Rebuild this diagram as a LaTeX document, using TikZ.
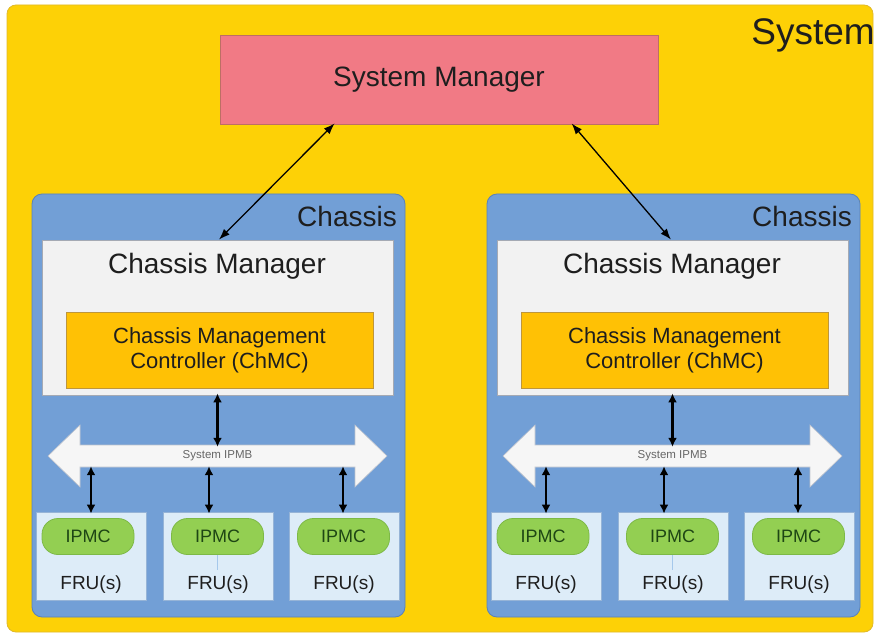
\documentclass[tikz,border=0pt]{standalone}
\usepackage{fontspec}
\setmainfont{Liberation Sans}
\usetikzlibrary{arrows.meta}
\definecolor{sysyellow}{RGB}{253,209,6}
\definecolor{sysedge}{RGB}{225,185,40}
\definecolor{smpink}{RGB}{241,122,133}
\definecolor{smedge}{RGB}{190,110,100}
\definecolor{chblue}{RGB}{114,159,214}
\definecolor{chedge}{RGB}{90,130,185}
\definecolor{cmgray}{RGB}{242,242,242}
\definecolor{cmedge}{RGB}{165,170,180}
\definecolor{chmcorange}{RGB}{255,193,5}
\definecolor{chmcedge}{RGB}{190,150,60}
\definecolor{frublue}{RGB}{221,236,248}
\definecolor{fruedge}{RGB}{150,180,215}
\definecolor{ipmcgreen}{RGB}{147,207,82}
\definecolor{ipmcedge}{RGB}{125,185,70}
\definecolor{ipmctext}{RGB}{30,70,20}
\definecolor{txt}{RGB}{30,30,30}
\definecolor{busfill}{RGB}{246,246,246}
\definecolor{busedge}{RGB}{190,195,205}
\definecolor{thinline}{RGB}{165,200,235}
\tikzset{
  plainbox/.style={rectangle, inner sep=0pt, line width=0.8pt},
  sysbox/.style={plainbox, fill=sysyellow, draw=sysedge, rounded corners=9pt},
  smbox/.style={plainbox, fill=smpink, draw=smedge, text=txt,
    font=\fontsize{28}{32}\selectfont},
  chbox/.style={plainbox, fill=chblue, draw=chedge, rounded corners=10pt},
  cmbox/.style={plainbox, fill=cmgray, draw=cmedge},
  chmcbox/.style={plainbox, fill=chmcorange, draw=chmcedge},
  frubox/.style={plainbox, fill=frublue, draw=fruedge, minimum width=110pt, minimum height=88pt},
  ipmcbox/.style={plainbox, fill=ipmcgreen, draw=ipmcedge, rounded corners=16pt,
    minimum width=92pt, minimum height=36pt, text=ipmctext, font=\fontsize{18}{20}\selectfont},
  lbl/.style={inner sep=0pt, text=txt},
  conn/.style={{Latex[length=9pt,width=9pt]}-{Latex[length=9pt,width=9pt]}, line width=2.2pt},
  diag/.style={{Latex[length=11pt,width=8pt]}-{Latex[length=11pt,width=8pt]}, line width=1.3pt},
}
\begin{document}
\begin{tikzpicture}[x=1pt,y=-1pt]
\useasboundingbox (0,0) rectangle (875,636);
\fill[white] (0,0) rectangle (875,636);
% system
\node[sysbox, minimum width=866pt, minimum height=627pt] (sys) at (440,318.5) {};
\node[lbl, anchor=base east, font=\fontsize{37}{40}\selectfont] (syslbl) at (875,45) {System};
% system manager
\node[smbox, minimum width=438pt, minimum height=89pt] (sm) at (439,79.5) {System Manager};
% chassis
\foreach \o/\s in {0/L,455/R}{
  \node[chbox, minimum width=373pt, minimum height=423pt] (ch\s) at (\o+218.5,405.5) {};
  \node[lbl, anchor=base east, font=\fontsize{28}{32}\selectfont] (chlbl\s) at (\o+397,227) {Chassis};
  \node[cmbox, minimum width=351pt, minimum height=155pt] (cm\s) at (\o+217.5,317.5) {};
  \node[lbl, anchor=base, font=\fontsize{28}{32}\selectfont] (cmlbl\s) at (\o+217,273) {Chassis Manager};
  \node[chmcbox, minimum width=307pt, minimum height=76pt, text=txt, align=center,
    font=\fontsize{22}{25}\selectfont] (chmc\s) at (\o+219.5,350) {Chassis Management\\Controller (ChMC)};
  % IPMB bus
  \filldraw[fill=busfill, draw=busedge, line width=0.6pt]
    (\o+48,456) -- (\o+80,425) -- (\o+80,445) -- (\o+355,445) -- (\o+355,425) -- (\o+387,456)
    -- (\o+355,487) -- (\o+355,467) -- (\o+80,467) -- (\o+80,487) -- cycle;
  \node[inner sep=0pt, minimum width=275pt, minimum height=22pt, text=black!60,
    font=\fontsize{11.5}{12}\selectfont] (ipmb\s) at (\o+217.5,456) {System IPMB};
  % FRUs
  \node[frubox] (fruA\s) at (\o+91,556) {};
  \node[frubox] (fruB\s) at (\o+218,556) {};
  \node[frubox] (fruC\s) at (\o+344,556) {};
  \node[ipmcbox] (ipmcA\s) at (\o+88,536.5) {IPMC};
  \node[ipmcbox] (ipmcB\s) at (\o+217.5,536.5) {IPMC};
  \node[ipmcbox] (ipmcC\s) at (\o+343.5,536.5) {IPMC};
  \coordinate (tl\s) at (\o+217.5,570);
  \draw[thinline, line width=0.8pt] (ipmcB\s.south) -- (tl\s);
  \node[lbl, anchor=base, font=\fontsize{19}{21}\selectfont] (fruTA\s) at (\o+91,589) {FRU(s)};
  \node[lbl, anchor=base, font=\fontsize{19}{21}\selectfont] (fruTB\s) at (\o+218,589) {FRU(s)};
  \node[lbl, anchor=base, font=\fontsize{19}{21}\selectfont] (fruTC\s) at (\o+344,589) {FRU(s)};
  % connectors
  \draw[conn] ([yshift=2pt]cm\s.south) -- ([yshift=-2pt]ipmb\s.north);
  \draw[conn] ([yshift=1pt]ipmb\s.south -| fruA\s.north) -- ([yshift=-2pt]fruA\s.north);
  \draw[conn] ([xshift=-9pt,yshift=1pt]ipmb\s.south -| fruB\s.north) -- ([xshift=-9pt,yshift=-2pt]fruB\s.north);
  \draw[conn] ([xshift=-1pt,yshift=1pt]ipmb\s.south -| fruC\s.north) -- ([xshift=-1pt,yshift=-2pt]fruC\s.north);
}
\draw[diag] ([xshift=115pt,yshift=1pt]sm.south west) -- ([xshift=1.5pt]cmL.north);
\draw[diag] ([xshift=352pt,yshift=1pt]sm.south west) -- ([xshift=-1.5pt]cmR.north);
\end{tikzpicture}
\end{document}
